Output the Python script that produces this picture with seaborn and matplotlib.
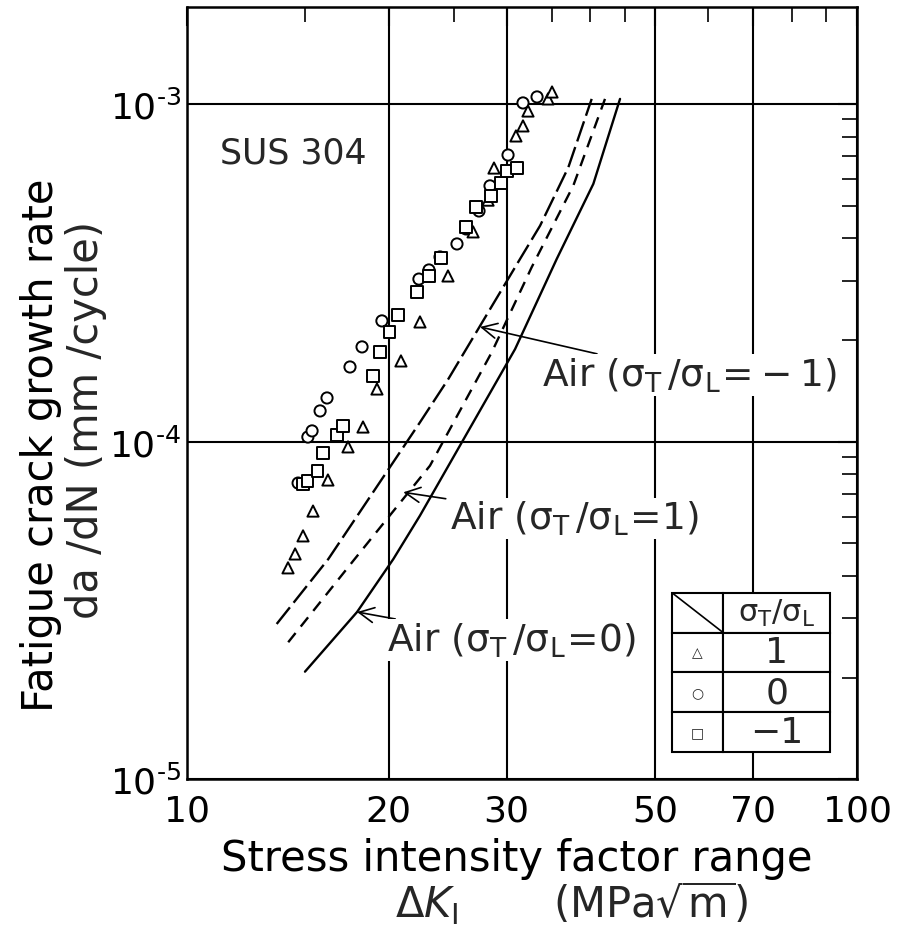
import numpy as np
import pandas as pd
import matplotlib
matplotlib.use("Agg")
import matplotlib.pyplot as plt
import seaborn as sns
from matplotlib.ticker import FixedLocator, NullFormatter, LogLocator, FuncFormatter

# Data ------------------------------------------------------------------------------------
# delta K (MPa sqrt m) and da/dN (mm/cycle), one pair of arrays per stress ratio
dk_tri = [14.15, 14.50, 14.90, 15.42, 16.23, 17.39, 18.31, 19.21, 20.86, 22.27,
          24.52, 26.73, 28.14, 28.72, 30.97, 31.73, 32.28, 34.58, 35.06]
da_tri = [4.23e-5, 4.65e-5, 5.26e-5, 6.23e-5, 7.70e-5, 9.65e-5, 1.105e-4, 1.432e-4, 1.734e-4, 2.262e-4,
          3.095e-4, 4.18e-4, 5.19e-4, 6.46e-4, 8.04e-4, 8.61e-4, 9.53e-4, 1.035e-3, 1.085e-3]

dk_circ = [14.65, 15.15, 15.37, 15.80, 16.18, 17.51, 18.25, 19.54, 22.19, 22.97,
           23.86, 25.29, 26.09, 27.28, 28.33, 30.14, 31.73, 33.30]
da_circ = [7.54e-5, 1.032e-4, 1.076e-4, 1.233e-4, 1.347e-4, 1.664e-4, 1.908e-4, 2.278e-4, 3.03e-4, 3.224e-4,
           3.523e-4, 3.85e-4, 4.265e-4, 4.82e-4, 5.72e-4, 7.06e-4, 1.007e-3, 1.049e-3]

dk_sq = [14.90, 15.15, 15.64, 15.96, 16.75, 17.09, 18.95, 19.41, 20.03, 20.65,
         22.04, 22.97, 23.94, 26.09, 27.00, 28.43, 29.43, 30.04, 31.09]
da_sq = [7.49e-5, 7.65e-5, 8.19e-5, 9.26e-5, 1.046e-4, 1.113e-4, 1.565e-4, 1.843e-4, 2.113e-4, 2.372e-4,
         2.775e-4, 3.095e-4, 3.50e-4, 4.32e-4, 4.95e-4, 5.34e-4, 5.83e-4, 6.33e-4, 6.46e-4]

# Air curves
dk_air_m1 = [13.61, 16.25, 22.27, 24.55, 31.41, 33.65, 37.08, 40.18]
da_air_m1 = [2.885e-5, 4.49e-5, 1.141e-4, 1.533e-4, 3.475e-4, 4.36e-4, 6.49e-4, 1.035e-3]

dk_air_p1 = [14.16, 17.71, 23.05, 28.50, 32.69, 37.72, 42.06]
da_air_p1 = [2.547e-5, 4.44e-5, 8.49e-5, 1.839e-4, 3.284e-4, 5.73e-4, 1.035e-3]

dk_air_0 = [15.00, 17.94, 20.32, 22.27, 30.88, 35.63, 40.41, 44.29]
da_air_0 = [2.084e-5, 3.13e-5, 4.49e-5, 6.04e-5, 1.88e-4, 3.475e-4, 5.80e-4, 1.035e-3]

x_ticks = [10, 20, 30, 50, 70, 100]
x_minor = [15, 25, 35, 40, 45, 60, 80, 90]
ratios = ["1", "0", "-1"]
ratio_labels = ["1", "0", "\u22121"]

# Estilo -------------------------------------------------------------------------------------
sns.set_theme(style="white")
plt.rcParams["font.family"] = ["DejaVu Sans"]
plt.rcParams["mathtext.fontset"] = "dejavusans"

fig = plt.figure(figsize=(8.99, 9.29), dpi=100)
ax = fig.add_axes([0.208, 0.16, 0.7453, 0.8314])

# Curvas em ar
air = [(dk_air_m1, da_air_m1, (0, (9, 2.5))),
       (dk_air_p1, da_air_p1, (0, (5, 3.5))),
       (dk_air_0, da_air_0, "-")]
for xs, ys, ls in air:
    sns.lineplot(x=xs, y=ys, color="black", linewidth=1.7, sort=False, estimator=None, ax=ax)
    ax.lines[-1].set_linestyle(ls)

# Pontos experimentais
df = pd.concat([
    pd.DataFrame({"dK": dk_tri, "dadn": da_tri, "ratio": "1"}),
    pd.DataFrame({"dK": dk_circ, "dadn": da_circ, "ratio": "0"}),
    pd.DataFrame({"dK": dk_sq, "dadn": da_sq, "ratio": "-1"}),
])
sns.scatterplot(data=df, x="dK", y="dadn", style="ratio",
                markers={"1": "^", "0": "o", "-1": "s"}, style_order=ratios,
                color="white", edgecolor="black", linewidth=1.4, s=65,
                legend=False, zorder=3, ax=ax)

# Eixos
ax.set_xscale("log")
ax.set_yscale("log")
ax.set_xlim(10, 100)
ax.set_ylim(1e-5, 1.937e-3)
ax.set_xticks(x_ticks, [str(t) for t in x_ticks])
ax.xaxis.set_minor_locator(FixedLocator(x_minor))
ax.xaxis.set_minor_formatter(NullFormatter())
ax.yaxis.set_major_locator(LogLocator(base=10))
ax.yaxis.set_major_formatter(FuncFormatter(lambda v, _: "$10^{\u2010%d}$" % round(-np.log10(v))))
ax.yaxis.set_minor_locator(LogLocator(base=10, subs=np.arange(2, 10)))
ax.yaxis.set_minor_formatter(NullFormatter())
ax.tick_params(which="both", direction="in", top=True, right=True, colors="black")
ax.tick_params(which="major", length=14, width=1.5, labelsize=26)
ax.tick_params(axis="x", which="major", pad=10)
ax.tick_params(axis="y", which="major", pad=4)
ax.tick_params(which="minor", length=11, width=1.2)
ax.grid(which="major", color="black", linewidth=1.5)
ax.grid(which="minor", visible=False)
for sp in ax.spines.values():
    sp.set_linewidth(1.8)
    sp.set_color("black")

# Rótulos dos eixos (duas linhas desalinhadas como no original)
ax.set_xlabel("Stress intensity factor range", fontsize=30, color="black", va="top")
ax.xaxis.set_label_coords(0.492, -0.0746)
ax.text(0.3104, -0.1783, r"$\Delta K_\mathrm{I}$       (MPa$\sqrt{\mathrm{m}}$)", transform=ax.transAxes,
        fontsize=30, ha="left", va="baseline")
ax.set_ylabel("Fatigue crack growth rate", fontsize=30, color="black")
ax.yaxis.set_label_coords(-0.1866, 0.4344)
ax.text(-0.119, 0.4666, "da /dN (mm /cycle)", transform=ax.transAxes, fontsize=30,
        rotation=90, ha="right", va="center")

# Textos
box = dict(facecolor="white", edgecolor="none", pad=1)
ax.text(11.2, 6.73e-4, "SUS 304", fontsize=25, ha="left", va="baseline", bbox=box)
arrow = dict(arrowstyle="->", color="black", lw=1.2, shrinkA=2, shrinkB=0)
ax.annotate(r"Air ($\mathrm{\sigma_T\,/\sigma_L\!=\!-1}$)", xy=(27.37, 2.186e-4), xytext=(33.88, 1.462e-4),
            fontsize=27, ha="left", va="baseline", arrowprops=arrow, bbox=box)
ax.annotate(r"Air ($\mathrm{\sigma_T\,/\sigma_L\!=\!1}$)", xy=(21.03, 7.08e-5), xytext=(24.69, 5.51e-5),
            fontsize=27, ha="left", va="baseline", arrowprops=arrow, bbox=box)
ax.annotate(r"Air ($\mathrm{\sigma_T\,/\sigma_L\!=\!0}$)", xy=(17.94, 3.13e-5), xytext=(19.88, 2.40e-5),
            fontsize=27, ha="left", va="baseline", arrowprops=arrow, bbox=box)

# Tabela de legenda
glyphs = {"1": "\u25b3", "0": "\u25cb", "-1": "\u25a1"}
cells = [["", r"$\mathrm{\sigma_T/\sigma_L}$"]] + [[glyphs[r], lab] for r, lab in zip(ratios, ratio_labels)]
tb_x, tb_y, tb_w, tb_h = 0.724, 0.0355, 0.236, 0.206
col0 = 0.323
tab = ax.table(cellText=cells, colWidths=[col0, 1 - col0], cellLoc="center",
               bbox=[tb_x, tb_y, tb_w, tb_h], zorder=5)
tab.auto_set_font_size(False)
for (r, c), cell in tab.get_celld().items():
    cell.set_linewidth(1.5)
    cell.set_edgecolor("black")
    cell.set_facecolor("white")
    cell.get_text().set_fontsize(26 if c == 1 else 10)
tab[0, 1].get_text().set_fontsize(22)
ax.plot([tb_x, tb_x + tb_w * col0], [tb_y + tb_h, tb_y + tb_h * 0.75],
        transform=ax.transAxes, color="black", lw=1.2, zorder=6)

fig.savefig("out.png", dpi=100, facecolor="white")
